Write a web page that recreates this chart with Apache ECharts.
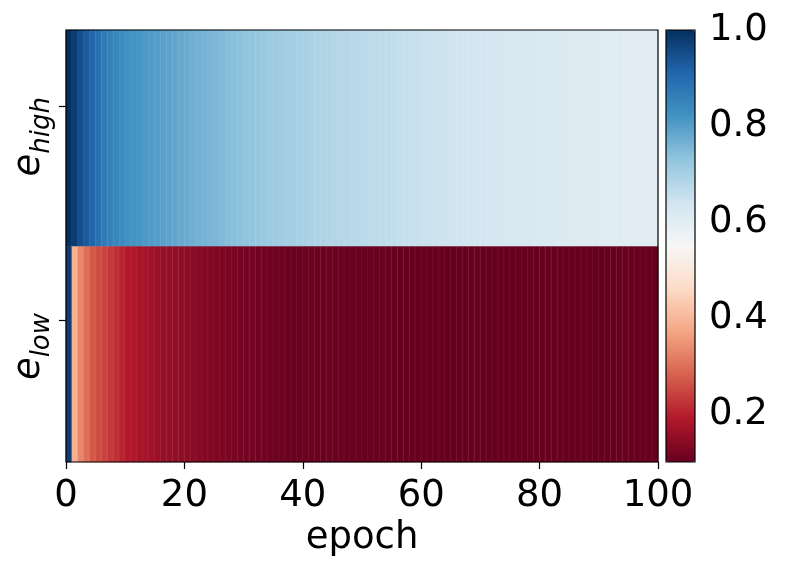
<!DOCTYPE html>
<html>
<head>
<meta charset="utf-8">
<script src="https://cdn.jsdelivr.net/npm/echarts@6/dist/echarts.min.js"></script>
<style>
  html, body { margin: 0; padding: 0; background: #fff; }
  #main { width: 786px; height: 573px; }
</style>
</head>
<body>
<div id="main"></div>
<script>
var myChart = echarts.init(document.getElementById('main'));

// rows, bottom to top
var rowNames = ['low', 'high'];

// value per epoch (0..99)
var eHigh = [
  1.00, 0.98, 0.95, 0.93, 0.91, 0.89, 0.87, 0.855, 0.845, 0.835,
  0.825, 0.82, 0.815, 0.81, 0.805, 0.80, 0.795, 0.79, 0.785, 0.78,
  0.775, 0.77, 0.765, 0.762, 0.758, 0.755, 0.75, 0.745, 0.74, 0.736,
  0.732, 0.728, 0.724, 0.72, 0.716, 0.712, 0.709, 0.706, 0.703, 0.70,
  0.697, 0.694, 0.691, 0.688, 0.686, 0.683, 0.68, 0.678, 0.675, 0.673,
  0.671, 0.669, 0.667, 0.665, 0.663, 0.661, 0.659, 0.657, 0.655, 0.653,
  0.651, 0.649, 0.647, 0.645, 0.643, 0.641, 0.639, 0.637, 0.636, 0.634,
  0.632, 0.631, 0.629, 0.628, 0.626, 0.625, 0.623, 0.622, 0.621, 0.619,
  0.618, 0.617, 0.616, 0.614, 0.613, 0.612, 0.611, 0.61, 0.609, 0.608,
  0.607, 0.606, 0.605, 0.604, 0.603, 0.602, 0.601, 0.601, 0.60, 0.60
];
var eLow = [
  0.98, 0.39, 0.33, 0.30, 0.27, 0.255, 0.245, 0.23, 0.22, 0.205,
  0.19, 0.188, 0.178, 0.175, 0.168, 0.165, 0.158, 0.155, 0.152, 0.147,
  0.145, 0.142, 0.136, 0.133, 0.131, 0.128, 0.125, 0.123, 0.12, 0.118,
  0.115, 0.113, 0.111, 0.11, 0.108, 0.107, 0.106, 0.105, 0.104, 0.104,
  0.103, 0.103, 0.103, 0.102, 0.102, 0.102, 0.102, 0.101, 0.101, 0.101,
  0.101, 0.101, 0.101, 0.101, 0.10, 0.10, 0.10, 0.10, 0.10, 0.10,
  0.10, 0.10, 0.10, 0.10, 0.10, 0.10, 0.10, 0.10, 0.10, 0.10,
  0.10, 0.10, 0.10, 0.10, 0.10, 0.10, 0.10, 0.10, 0.10, 0.10,
  0.10, 0.10, 0.10, 0.10, 0.10, 0.10, 0.10, 0.10, 0.10, 0.10,
  0.10, 0.10, 0.10, 0.10, 0.10, 0.10, 0.10, 0.10, 0.10, 0.10
];

var cbarTicks = [0.2, 0.4, 0.6, 0.8, 1.0];
var vMin = 0.1, vMax = 1.0;

// matplotlib RdBu
var rdbu = ['#67001f', '#b2182b', '#d6604d', '#f4a582', '#fddbc7', '#f7f7f7',
            '#d1e5f0', '#92c5de', '#4393c3', '#2166ac', '#053061'];

var epochs = eHigh.map(function (v, i) { return i; });
var heat = [];
for (var i = 0; i < epochs.length; i++) {
  heat.push([i, 0, eLow[i]]);
  heat.push([i, 1, eHigh[i]]);
}

var font = 'DejaVu Sans';
var fs = 37;

option = {
  animation: false,
  backgroundColor: '#fff',
  grid: [
    {
      left: 66, top: 30, width: 592, height: 432,
      show: true, backgroundColor: 'transparent',
      borderColor: '#000', borderWidth: 1.2, z: 10
    },
    {
      left: 666, top: 30, width: 29, height: 432,
      show: true, backgroundColor: 'transparent',
      borderColor: '#000', borderWidth: 1.2, z: 10
    }
  ],
  xAxis: [
    { type: 'category', gridIndex: 0, data: epochs, show: false },
    {
      type: 'value', gridIndex: 0, position: 'bottom', min: 0, max: 100, interval: 20,
      axisLine: { show: false },
      axisTick: { show: true, length: 7, lineStyle: { color: '#000', width: 1.2 } },
      axisLabel: { margin: 16, color: '#000', fontFamily: font, fontSize: fs },
      splitLine: { show: false },
      name: 'epoch', nameLocation: 'middle', nameGap: 56,
      nameTextStyle: { color: '#000', fontFamily: font, fontSize: fs }
    },
    { type: 'value', gridIndex: 1, show: false, min: 0, max: 1 }
  ],
  yAxis: [
    { type: 'category', gridIndex: 0, data: rowNames, show: false },
    {
      type: 'value', gridIndex: 0, position: 'left', min: 0, max: 2,
      axisLine: { show: false },
      splitLine: { show: false },
      axisTick: {
        show: true, length: 7, customValues: [0.657, 1.648],
        lineStyle: { color: '#000', width: 1.2 }
      },
      axisLabel: {
        customValues: [0.69, 1.69],
        rotate: 90, align: 'right', verticalAlign: 'bottom', margin: 11,
        formatter: function (v) {
          return '{e|e}{s|' + rowNames[v > 1 ? 1 : 0] + '}';
        },
        rich: {
          e: { fontFamily: font, fontStyle: 'italic', fontSize: fs, color: '#000', padding: [0, 0, 7, 0], verticalAlign: 'bottom' },
          s: { fontFamily: font, fontStyle: 'italic', fontSize: 26, color: '#000', verticalAlign: 'bottom' }
        }
      }
    },
    {
      type: 'value', gridIndex: 1, position: 'right', min: vMin, max: vMax,
      axisLine: { show: false },
      splitLine: { show: false },
      axisTick: {
        show: true, length: 7, customValues: cbarTicks,
        lineStyle: { color: '#000', width: 1.2 }
      },
      axisLabel: {
        customValues: cbarTicks, margin: 14,
        color: '#000', fontFamily: font, fontSize: fs,
        formatter: function (v) { return v.toFixed(1); }
      }
    }
  ],
  visualMap: {
    type: 'continuous',
    min: vMin, max: vMax,
    seriesIndex: 0,
    calculable: false,
    left: 666, top: 30,
    itemWidth: 29, itemHeight: 432,
    padding: 0,
    text: null,
    showLabel: false,
    inRange: { color: rdbu }
  },
  series: [
    {
      type: 'heatmap',
      xAxisIndex: 0, yAxisIndex: 0,
      data: heat,
      itemStyle: { borderColor: 'rgba(255,255,255,0.12)', borderWidth: 0.5 },
      emphasis: { disabled: true }
    }
  ]
};

myChart.setOption(option);
</script>
</body>
</html>
